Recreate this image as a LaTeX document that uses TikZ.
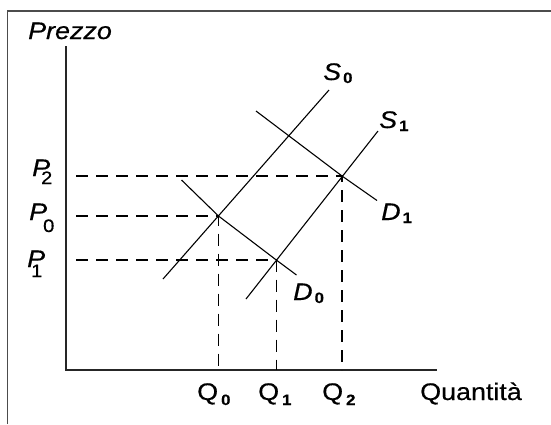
\documentclass[tikz,border=0pt]{standalone}
\usepackage{fontspec}
\setmainfont{Liberation Sans}[FakeStretch=1.12, FakeBold=0.5]
\newcommand{\ecolab}[4]{#1\kern#3\raisebox{#4}{\fontsize{15}{17}\selectfont\bfseries #2}}
\newcommand{\plab}[3]{\textit{P}\kern#2\raisebox{#3}{\fontsize{18}{20}\selectfont #1}}

\begin{document}
\begin{tikzpicture}[x=1pt, y=-1pt,
  axisline/.style={line width=1.8pt, black!85},
  curve/.style={line width=1.1pt},
  guide/.style={line width=1.4pt, dash pattern=on 12pt off 8pt},
  lab/.style={anchor=base west, inner sep=0pt, font=\fontsize{24}{26}\selectfont}]

\useasboundingbox (0,0) rectangle (551,424);

% ---- frame (only top and left edge in view)
\draw[line width=1.5pt, black!70] (7.5,424) -- (7.5,11) -- (551,11);

% ---- axes
\coordinate (O) at (66,370);
\coordinate (ytop) at (66,46);
\coordinate (xend) at (437,370);
\coordinate (pstart) at (76,0);
\draw[axisline] (ytop) -- (O) -- (xend);

% ---- equilibria
\coordinate (E0) at (218.5,216);
\coordinate (E1) at (276.3,260);
\coordinate (E2) at (342,176);

% ---- supply and demand
\coordinate (S0a) at (163,279);  \coordinate (S0b) at (329,90);
\coordinate (S1a) at (246,299);  \coordinate (S1b) at (378,131);
\coordinate (D0a) at (181.5,180); \coordinate (D0b) at (296.5,275);
\coordinate (D1a) at (256,111);  \coordinate (D1b) at (377,200.5);
\draw[curve] (S0a) -- (S0b);
\draw[curve] (S1a) -- (S1b);
\draw[curve] (D0a) -- (E0) -- (E1) -- (D0b);
\draw[curve] (D1a) -- (E2) -- (D1b);

% ---- price and quantity guides
\foreach \e in {E0, E1, E2}
  \draw[guide] (pstart |- \e) -- (\e) -- (\e |- O);

% ---- labels
\node[lab] (prezzo) at (28,39) {\textit{Prezzo}};
\node[lab] (quantita) at (420,400) {Quantità};
\node[lab] (s0) at (323,80) {\ecolab{\textit{S}}{0}{2pt}{-3pt}};
\node[lab] (s1) at (379,128) {\ecolab{\textit{S}}{1}{2pt}{-3pt}};
\node[lab] (d1) at (381,220) {\ecolab{\textit{D}}{1}{2pt}{-3pt}};
\node[lab] (d0) at (293,300) {\ecolab{\textit{D}}{0}{2pt}{-3pt}};
\node[lab] (q0) at (197,400) {\ecolab{Q}{0}{3pt}{-5pt}};
\node[lab] (q1) at (258,400) {\ecolab{Q}{1}{3pt}{-5pt}};
\node[lab] (q2) at (322,400) {\ecolab{Q}{2}{3pt}{-5pt}};
\node[lab] (p2) at (32,176) {\plab{2}{-9pt}{-8pt}};
\node[lab] (p0) at (29,220) {\plab{0}{-4pt}{-12pt}};
\node[lab] (p1) at (27,267) {\plab{1}{-14pt}{-10pt}};

\end{tikzpicture}
\end{document}
